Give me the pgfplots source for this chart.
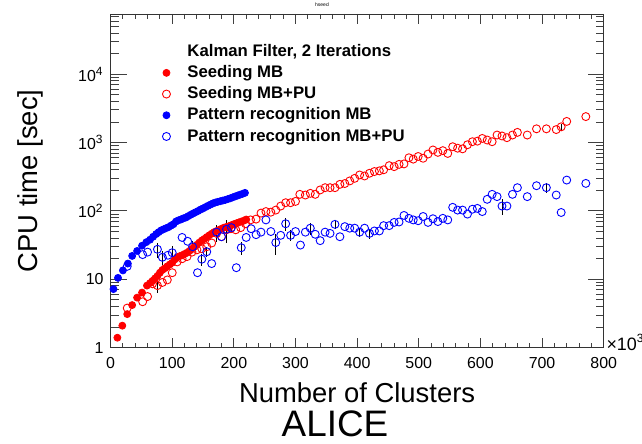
\documentclass[border=0pt]{standalone}
\usepackage{pgfplots}
\pgfplotsset{compat=1.18}
\usepackage{fontspec}
\setmainfont{Liberation Sans}
\definecolor{rootred}{RGB}{255,0,0}
\definecolor{rootblue}{RGB}{0,0,255}
\begin{document}
\begin{tikzpicture}[x=1bp,y=1bp]
\path[use as bounding box] (0,0) rectangle (321,222);
\node[font=\fontsize{2.5}{3}\selectfont] at (161,219.5) {hseed};
\node[font=\fontsize{18.5}{20}\selectfont] at (167.5,10) {ALICE};
\begin{axis}[
  at={(55.3bp,48.15bp)}, anchor=south west, scale only axis,
  width=246.55bp, height=166.85bp,
  clip=false,
  xmin=0, xmax=800, ymode=log, ymin=1, ymax=7.6e4,
  axis line style={line width=0.5pt, black!80},
  tick style={line width=0.5pt, black!75},
  tick align=inside,
  major tick length=5bp, minor tick length=2.6bp,
  every major y tick/.append style={/pgfplots/major tick length=8bp},
  every minor y tick/.append style={/pgfplots/minor tick length=4bp},
  xtick={0,100,...,800},
  xticklabels={0,100,200,300,400,500,600,700,800},
  minor xtick={20,40,60,80,120,140,160,180,220,240,260,280,320,340,360,380,420,440,460,480,520,540,560,580,620,640,660,680,720,740,760,780},
  ytick={1,10,100,1000,10000},
  yticklabels={1,10,10\textsuperscript{2},10\textsuperscript{3},10\textsuperscript{4}},
  minor ytick={2,3,4,5,6,7,8,9,20,30,40,50,60,70,80,90,200,300,400,500,600,700,800,900,2000,3000,4000,5000,6000,7000,8000,9000,20000,30000,40000,50000,60000,70000},
  ticklabel style={font=\fontsize{8}{9}\selectfont},
  xticklabel style={yshift=-1.5bp},
  xlabel={Number of Clusters},
  ylabel={CPU time [sec]},
  label style={font=\fontsize{13.75}{15}\selectfont},
  xlabel style={at={(axis description cs:0.5,0)}, anchor=center, yshift=-22.5bp},
  ylabel style={at={(axis description cs:-0.1635,0.5)}, anchor=center},
  legend cell align=left,
  legend style={at={(rel axis cs:0.078,0.912)}, anchor=north west, draw=none, fill=none,
    inner sep=0pt, row sep=2.7bp,
    font=\bfseries\fontsize{8.4}{9}\selectfont,
    nodes={inner xsep=8.5bp, inner ysep=0pt, text height=6.3bp, text depth=1.6bp}},
  error bars/y dir=both, error bars/y explicit,
  error bars/error mark=none,
  error bars/error bar style={black, line width=0.4pt},
]
\addlegendimage{empty legend}
\addlegendentry{Kalman Filter, 2 Iterations}
\addlegendimage{only marks, mark=*, mark size=1.75bp, rootred, mark options={draw=rootred, fill=rootred}}
\addlegendentry{Seeding MB}
\addlegendimage{only marks, mark=o, mark size=2bp, rootred, mark options={line width=0.45pt}}
\addlegendentry{Seeding MB+PU}
\addlegendimage{only marks, mark=*, mark size=1.75bp, rootblue, mark options={draw=rootblue, fill=rootblue}}
\addlegendentry{Pattern recognition MB}
\addlegendimage{only marks, mark=o, mark size=2bp, rootblue, mark options={line width=0.45pt}}
\addlegendentry{Pattern recognition MB+PU}

% Seeding MB+PU (red open)
\addplot[forget plot, only marks, mark=o, mark size=2bp, rootred, mark options={line width=0.45pt}]
coordinates {
(27,3.8) (52,4.7) (60,5.6) (68,8.6) (76,8.1) +- (0,1.8) (84,9) (92,9.8) (100,12.5)
(108,18) (116,20) (124,21.5) (132,25) (140,27) (148,28) (156,30) (164,34)
(172,47) (180,42) (188,53) (195,55) (203,53) (211,57) (219,65)
(227,74) (236,76) (244,93) (252,98) (260,96) (268,103) (276,118) (284,132)
(292,132) (300,138) (307,175) (316,171) (324,181) (332,175) (340,203) (348,219)
(356,219) (364,219) (372,245) (380,252) (388,275) (396,300) (404,336) (412,325)
(420,356) (428,377) (436,386) (443,400) (452,460) (460,445) (468,480) (476,488)
(484,600) (491,573) (499,626) (507,590) (515,680) (523,780) (531,720) (539,762)
(547,694) (555,870) (563,828) (571,810) (579,930) (587,1030) (595,1050) (603,1150)
(611,1090) (619,1030) (627,1290) (635,1250) (643,1180) (652,1290) (660,1410)
(676,1290) (691,1590) (707,1590) (723,1550) (731,1700) +- (0,200) (740,2040) (771,2400)
};

% Seeding MB (red filled)
\addplot[forget plot, only marks, mark=*, mark size=1.75bp, rootred, mark options={draw=rootred, fill=rootred}]
coordinates {
(11,1.4) (19,2.1) (27,3.1) (35,4.2) (43,5.4) (51,6.4) (59,8.1) (64,8.8) (68,9.5)
(72,10.3) (76,11.2) (80,12.5) (84,13.7) (88,14.5) (92,15.5) (96,16.5) (100,17.5)
(104,19.5) (108,21) (112,21.8) (116,22.5) (120,23.5) (124,24.5) (128,26) (132,28)
(136,30) (140,32) (144,34.5) (148,37) (152,39) (156,41.5) (160,44) (164,46.5)
(168,49) (172,51) (176,53) (180,55) (184,57) (188,58.5) (192,60) (196,62) (200,64)
(204,66) (208,68) (212,70) (216,72) (220,75)
};

% Pattern recognition MB (blue filled)
\addplot[forget plot, only marks, mark=*, mark size=1.75bp, rootblue, mark options={draw=rootblue, fill=rootblue}]
coordinates {
(4.7,7.2) (12,10.5) (20,13.5) (28,17) (35,22) (43,26) (51,31) (58,35) (64,38)
(69,42) (74,46) (78,49) (82,52) (86,54) (90,56) (94,58) (98,61) (102,64) (106,70)
(110,73) (114,75) (118,78) (122,80) (126,84) (130,88) (134,92) (138,96) (142,100)
(146,105) (150,109) (154,114) (158,119) (162,124) (166,129) (170,133) (174,136)
(178,139) (182,142) (186,145) (190,149) (194,153) (198,158) (202,163) (206,168)
(210,173) (214,178) (218,184)
};

% Pattern recognition MB+PU (blue open)
\addplot[forget plot, only marks, mark=o, mark size=2bp, rootblue, mark options={line width=0.45pt}]
coordinates {
(27,15.5) (52,23) (60,25) (76,27.5) +- (0,7) (84,21) +- (0,5) (93,22.5) (100,24.5) +- (0,6)
(116,41) (125,36) (133,30) +- (0,6) (141,12.5) (148,19.7) +- (0,4) (156,25.3) +- (0,4)
(164,17) (172,49) +- (0,14) (180,42) (188,54) +- (0,20) (196,57) +- (0,10) (204,14.8)
(212,29) +- (0,6) (220,41) (228,55) (236,45) (244,49) (252,74) (260,50)
(268,34.5) +- (0,12) (276,44) (284,65) +- (0,14) (292,44) +- (0,8) (300,50) (308,31.7)
(316,49) (324,56) +- (0,11) (332,45.6) (340,36.8) (348,49) (356,47) (364,63.7) +- (0,10)
(372,42) (380,59) (388,56) (396,56) (404,49) +- (0,8) (412,56) (420,47) +- (0,8)
(428,51) (436,51) (443,61) (452,61) (460,68) (468,69) (476,86) (484,78) (491,74)
(499,72) (507,83) (515,68) (523,77) (531,70) (539,78) (547,74) (555,113) (563,103)
(571,103) (579,90) (587,106) (595,109) (603,98) (611,148) (619,175) (627,162)
(635,118) +- (0,30) (643,118) (652,175) (660,219) (676,162) (691,234)
(707,219) +- (0,35) (723,171) (731,95) (740,283) (771,253)
};

\node[anchor=west, font=\fontsize{9}{10}\selectfont, inner sep=0pt] at (rel axis cs:1,0) [xshift=1.2bp, yshift=2.5bp] {×10\textsuperscript{3}};
\end{axis}
\end{tikzpicture}
\end{document}
